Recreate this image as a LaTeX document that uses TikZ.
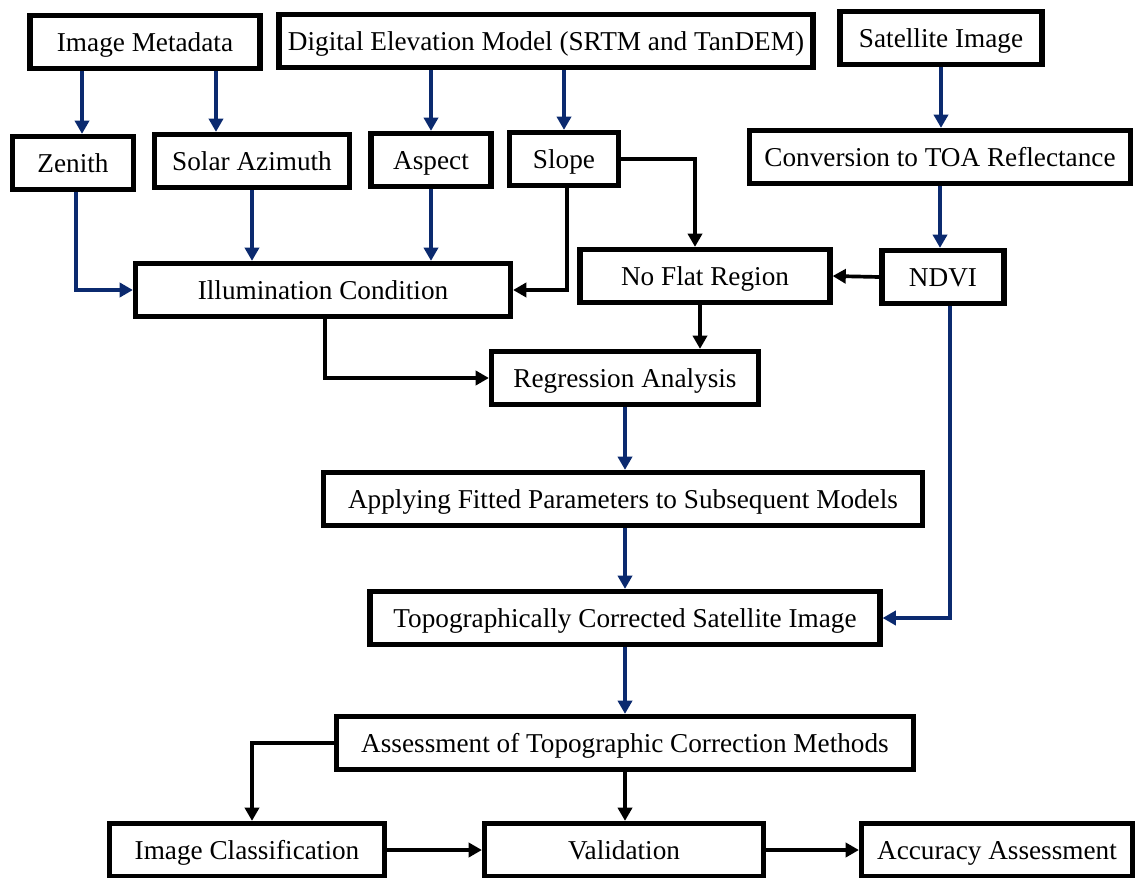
\documentclass[tikz,border=0pt]{standalone}
\usepackage{fontspec}
\setmainfont{Liberation Serif}
\usepackage{tikz}
\usetikzlibrary{arrows.meta,positioning,calc}
\definecolor{flowblue}{HTML}{0B2A6F}
\tikzset{
  procbox/.style={draw=black,line width=3pt,fill=white,inner sep=0pt,align=center,
    minimum height=1.06cm,text height=10.3pt,text depth=0pt,font=\fontsize{15.5}{18}\selectfont},
  bluearrow/.style={-{Triangle[length=7.5pt,width=8pt]},line width=2.1pt,draw=flowblue},
  blackarrow/.style={-{Triangle[length=7.5pt,width=8pt]},line width=2.1pt,draw=black},
}
\begin{document}
\begin{tikzpicture}[x=0.02cm,y=-0.02cm]
  \useasboundingbox (0,0) rectangle (1135,878);

  \node[procbox,minimum width=4.6cm] (imgmeta) at (145,42) {Image Metadata};
  \node[procbox,minimum width=10.68cm] (dem) at (546,41) {Digital Elevation Model (SRTM and TanDEM)};
  \node[procbox,minimum width=4.04cm] (satimg) at (941,38) {Satellite Image};

  \node[procbox,minimum width=2.42cm] (zenith) at (73,163) {Zenith};
  \node[procbox,minimum width=3.9cm] (solaraz) at (252,161) {Solar Azimuth};
  \node[procbox,minimum width=2.4cm] (aspect) at (431,160) {Aspect};
  \node[procbox,minimum width=2.18cm] (slope) at (564,159) {Slope};
  \node[procbox,minimum width=7.62cm] (toa) at (940,157) {Conversion to TOA Reflectance};

  \node[procbox,minimum width=7.5cm] (illum) at (323,290) {Illumination Condition};
  \node[procbox,minimum width=5cm] (noflat) at (705,276) {No Flat Region};
  \node[procbox,minimum width=2.44cm] (ndvi) at (943,277) {NDVI};

  \node[procbox,minimum width=5.34cm] (regress) at (625,378) {Regression Analysis};
  \node[procbox,minimum width=11.98cm] (applying) at (623,499) {Applying Fitted Parameters to Subsequent Models};
  \node[procbox,minimum width=10.2cm] (topo) at (625,618) {Topographically Corrected Satellite Image};
  \node[procbox,minimum width=11.54cm] (assess) at (625,743) {Assessment of Topographic Correction Methods};

  \node[procbox,minimum width=5.5cm] (imgclass) at (247,850) {Image Classification};
  \node[procbox,minimum width=5.58cm] (valid) at (624,850) {Validation};
  \node[procbox,minimum width=5.42cm] (accuracy) at (997,850) {Accuracy Assessment};

  \draw[bluearrow] ([xshift=-1.26cm]imgmeta.south) coordinate (zm) -- (zm |- zenith.north);
  \draw[bluearrow] ([xshift=1.42cm]imgmeta.south) coordinate (sm) -- (sm |- solaraz.north);
  \draw[bluearrow] (aspect.north |- dem.south) -- (aspect.north);
  \draw[bluearrow] (slope.north |- dem.south) -- (slope.north);
  \draw[bluearrow] (satimg.south) -- (toa.north -| satimg.south);
  \draw[bluearrow] (toa.south) -- (toa.south |- ndvi.north);

  \draw[bluearrow] ([xshift=0.06cm]zenith.south) |- (illum.west);
  \draw[bluearrow] (solaraz.south) -- (solaraz.south |- illum.north);
  \draw[bluearrow] (aspect.south) -- (aspect.south |- illum.north);
  \draw[blackarrow] ([xshift=0.06cm]slope.south) |- (illum.east);
  \draw[blackarrow] (slope.east) -| ([xshift=-0.2cm]noflat.north);
  \draw[blackarrow] (ndvi.west) -- (noflat.east);

  \draw[blackarrow] ([xshift=-0.1cm]noflat.south) coordinate (nf) -- (nf |- regress.north);
  \draw[blackarrow] ([xshift=0.04cm]illum.south) |- (regress.west);
  \draw[bluearrow] (regress.south) -- (regress.south |- applying.north);
  \draw[bluearrow] (regress.south |- applying.south) -- (regress.south |- topo.north);
  \draw[bluearrow] ([xshift=0.14cm]ndvi.south) |- (topo.east);
  \draw[bluearrow] (topo.south) -- (topo.south |- assess.north);

  \draw[blackarrow] (assess.west) -| ([xshift=0.1cm]imgclass.north);
  \draw[blackarrow] (assess.south) -- (assess.south |- valid.north);
  \draw[blackarrow] (imgclass.east) -- (valid.west);
  \draw[blackarrow] (valid.east) -- (accuracy.west);
\end{tikzpicture}
\end{document}
